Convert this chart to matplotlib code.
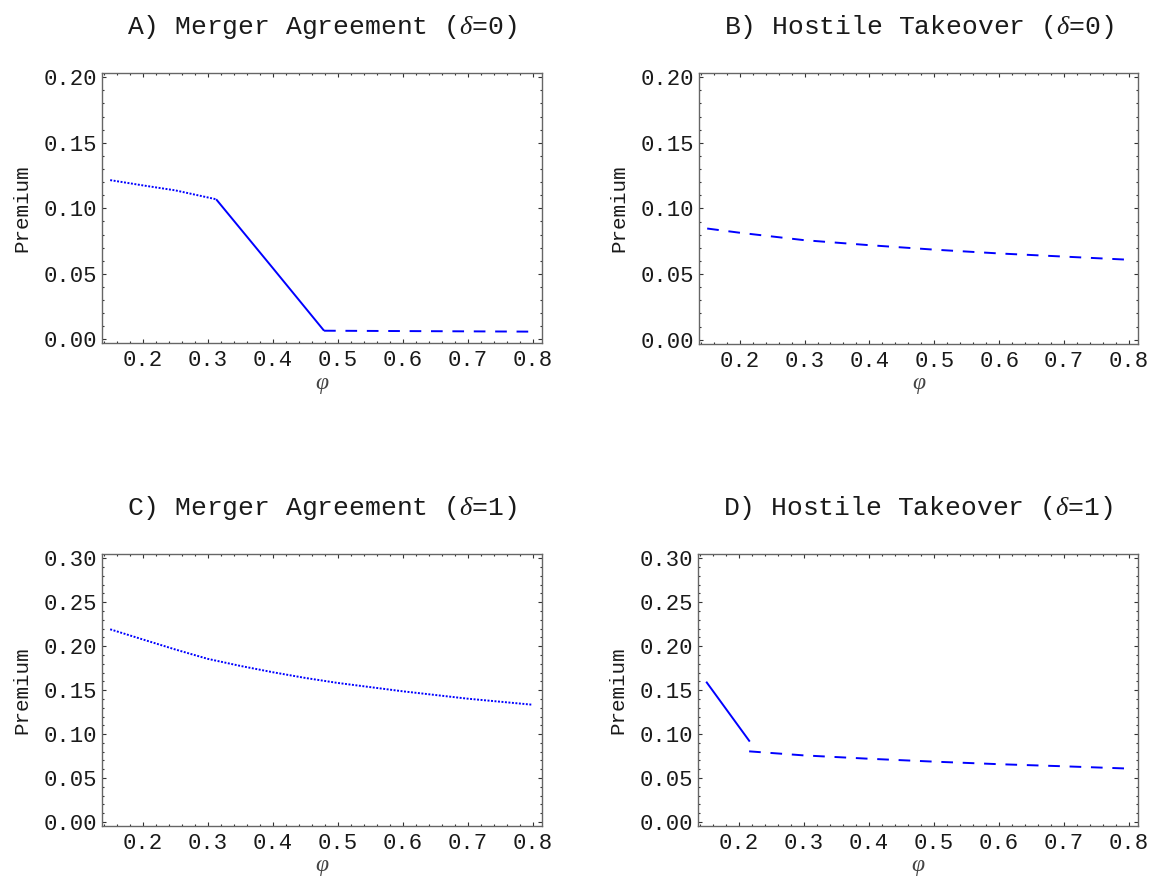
import matplotlib
matplotlib.use("Agg")
import matplotlib.pyplot as plt
from matplotlib.ticker import MultipleLocator, FormatStrFormatter

plt.rcParams["font.family"] = ["Liberation Mono", "DejaVu Sans"]
plt.rcParams["mathtext.fontset"] = "custom"
plt.rcParams["mathtext.it"] = "Liberation Serif:italic"
plt.rcParams["mathtext.rm"] = "Liberation Mono"

# Panel A: merger agreement, delta = 0
phi_a_dot = [0.15, 0.20, 0.25, 0.313]
prem_a_dot = [0.1215, 0.1175, 0.1137, 0.1069]
phi_a_solid = [0.313, 0.40, 0.479]
prem_a_solid = [0.1069, 0.0545, 0.0066]
phi_a_dash = [0.479, 0.80]
prem_a_dash = [0.0066, 0.0059]

# Panel B: hostile takeover, delta = 0
phi_b_dash = [0.15, 0.20, 0.30, 0.40, 0.50, 0.60, 0.70, 0.80]
prem_b_dash = [0.0847, 0.0815, 0.0758, 0.0720, 0.0686, 0.0657, 0.0633, 0.0609]

# Panel C: merger agreement, delta = 1
phi_c_dot = [0.15, 0.20, 0.25, 0.30, 0.35, 0.40, 0.45, 0.50, 0.60, 0.70, 0.80]
prem_c_dot = [0.2192, 0.2077, 0.1963, 0.1856, 0.1776, 0.1704, 0.1639, 0.1582,
              0.1487, 0.1403, 0.1334]

# Panel D: hostile takeover, delta = 1
phi_d_solid = [0.15, 0.217]
prem_d_solid = [0.1596, 0.0915]
phi_d_dash = [0.216, 0.30, 0.40, 0.50, 0.60, 0.70, 0.80]
prem_d_dash = [0.0804, 0.0758, 0.0720, 0.0687, 0.0658, 0.0634, 0.0608]

titles = ["A) Merger Agreement ($\\delta$=0)",
          "B) Hostile Takeover ($\\delta$=0)",
          "C) Merger Agreement ($\\delta$=1)",
          "D) Hostile Takeover ($\\delta$=1)"]
y_tops = [0.20, 0.20, 0.30, 0.30]
x_label = "φ"
y_label = "Premium"

W, H = 1151, 882
fig = plt.figure(figsize=(W / 100, H / 100), dpi=100)

# axes boxes in pixels: left, top, right, bottom
boxes = [(102, 73.3, 541.7, 343.3),
         (699, 73.3, 1138, 343.6),
         (102, 554.3, 541.7, 826),
         (698, 554.3, 1138, 826)]

LW = 1.4
BLUE = "#0000ff"
DOT = dict(color=BLUE, lw=LW, dashes=(1.0, 0.8), dash_capstyle="butt")
SOLID = dict(color=BLUE, lw=LW, solid_capstyle="butt")
DASH = dict(color=BLUE, lw=LW, dashes=(6.0, 5.0), dash_capstyle="butt")

axes = []
for (l, t, r, b) in boxes:
    ax = fig.add_axes([l / W, 1 - b / H, (r - l) / W, (b - t) / H])
    axes.append(ax)

axA, axB, axC, axD = axes
axA.plot(phi_a_dot, prem_a_dot, **DOT)
axA.plot(phi_a_solid, prem_a_solid, **SOLID)
axA.plot(phi_a_dash, prem_a_dash, **DASH)
axB.plot(phi_b_dash, prem_b_dash, **DASH)
axC.plot(phi_c_dot, prem_c_dot, **DOT)
axD.plot(phi_d_solid, prem_d_solid, **SOLID)
axD.plot(phi_d_dash, prem_d_dash, **DASH)

for ax, title, ytop in zip(axes, titles, y_tops):
    pad_y = ytop * 0.015
    ax.set_xlim(0.1374, 0.8138)
    ax.set_ylim(-pad_y, ytop + pad_y)
    ax.xaxis.set_major_locator(MultipleLocator(0.1))
    ax.xaxis.set_minor_locator(MultipleLocator(0.02))
    ax.yaxis.set_major_locator(MultipleLocator(0.05))
    ax.yaxis.set_minor_locator(MultipleLocator(0.01))
    ax.xaxis.set_major_formatter(FormatStrFormatter("%.1f"))
    ax.yaxis.set_major_formatter(FormatStrFormatter("%.2f"))
    ax.tick_params(which="both", direction="in", top=True, right=True,
                   color="#333333", width=0.8)
    ax.tick_params(which="major", length=3.0, labelsize=16,
                   labelcolor="#1a1a1a")
    ax.tick_params(which="minor", length=1.6)
    ax.tick_params(axis="y", which="major", pad=3.8)
    ax.tick_params(axis="x", which="major", pad=5.0)
    for s in ax.spines.values():
        s.set_color("#666666")
        s.set_linewidth(1.0)
    ax.set_title(title, fontsize=19, pad=28, color="#1a1a1a")
    ax.set_xlabel(x_label, fontsize=17, color="#444444",
                  fontfamily="Liberation Serif", fontstyle="italic",
                  va="center")
    ax.set_ylabel(y_label, fontsize=15, color="#1a1a1a", va="center")
    hpx = ax.get_position().height * H
    wpx = ax.get_position().width * W
    ax.xaxis.set_label_coords(0.5, -40 / hpx)
    ax.yaxis.set_label_coords(-80 / wpx, 0.5)

fig.savefig("out.png", dpi=100)
